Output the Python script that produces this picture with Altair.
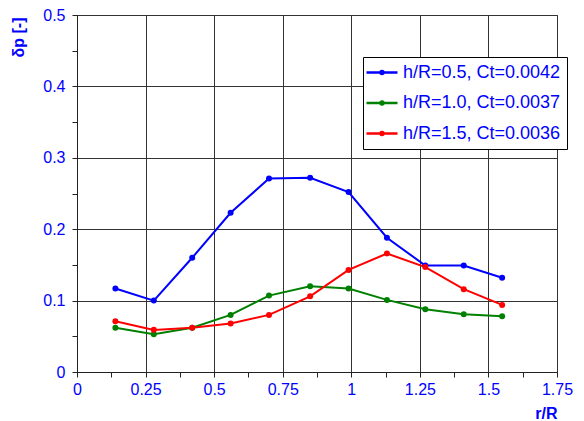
import altair as alt
import pandas as pd

r_over_R = [0.14, 0.28, 0.42, 0.56, 0.70, 0.85, 0.99, 1.13, 1.27, 1.41, 1.55]
dp_h05 = [0.117, 0.100, 0.160, 0.223, 0.271, 0.272, 0.252, 0.188, 0.149, 0.149, 0.132]
dp_h10 = [0.062, 0.053, 0.062, 0.080, 0.107, 0.120, 0.117, 0.101, 0.088, 0.081, 0.078]
dp_h15 = [0.071, 0.059, 0.062, 0.068, 0.080, 0.106, 0.143, 0.166, 0.147, 0.116, 0.094]
series_names = ["h/R=0.5, Ct=0.0042", "h/R=1.0, Ct=0.0037", "h/R=1.5, Ct=0.0036"]
series_colors = ["#0000FF", "#008000", "#FF0000"]

x_ticks = [i * 0.125 for i in range(15)]
y_ticks = [i * 0.05 for i in range(11)]

rows = []
for name, vals in zip(series_names, [dp_h05, dp_h10, dp_h15]):
    for x, y in zip(r_over_R, vals):
        rows.append({"x": x, "y": y, "series": name})
df = pd.DataFrame(rows)

FONT = "Liberation Sans"
BLUE = "#0000FF"

x_axis = alt.Axis(
    values=x_ticks,
    labelExpr="round(datum.value*8)%2==1 ? '' : format(datum.value,'~g')",
    gridOpacity={"condition": {"test": "round(datum.value*8)%2==1", "value": 0}, "value": 1},
    labelOverlap=False, labelFlush=False,
    title="r/R", titleAnchor="end", titleAlign="right", titleX=480, titleY=46,
    titleBaseline="alphabetic",
    tickSize=5, labelPadding=4,
)
y_axis = alt.Axis(
    values=y_ticks,
    labelExpr="round(datum.value*20)%2==1 ? '' : format(datum.value,'~g')",
    gridOpacity={"condition": {"test": "round(datum.value*20)%2==1", "value": 0}, "value": 1},
    labelOverlap=False, labelFlush=False,
    title="δp [-]", titleAngle=-90, titleAlign="right", titleBaseline="middle",
    titleX=-59, titleY=2,
    tickSize=5, labelPadding=7,
)

legend = alt.Legend(
    title=None, orient="none", legendX=286, legendY=42,
    symbolType="M-1.5,0L2.375,0M0.6275,0A0.19,0.19,0,1,1,0.2475,0A0.19,0.19,0,1,1,0.6275,0Z",
    symbolSize=256, symbolStrokeWidth=2.5,
    fillColor="white", strokeColor="black", padding=6, rowPadding=11.5,
    labelOffset=15, labelLimit=400,
    labelExpr="datum.label + '\u2002'",
)

chart = alt.Chart(df).mark_line(
    strokeWidth=2, point=alt.OverlayMarkDef(size=36, filled=True)
).encode(
    x=alt.X("x:Q", scale=alt.Scale(domain=[0, 1.75], nice=False), axis=x_axis),
    y=alt.Y("y:Q", scale=alt.Scale(domain=[0, 0.5], nice=False), axis=y_axis),
    color=alt.Color("series:N", scale=alt.Scale(domain=series_names, range=series_colors),
                    legend=legend, sort=series_names),
).properties(
    width=480, height=357,
    background="white",
    autosize=alt.AutoSizeParams(type="none"),
    padding={"left": 77, "top": 15, "right": 27, "bottom": 49},
).configure_view(
    stroke="#555555", strokeWidth=1
).configure_axis(
    labelFont=FONT, titleFont=FONT, labelFontSize=16, titleFontSize=16,
    labelColor=BLUE, titleColor=BLUE, titleFontWeight="bold",
    gridColor="#333333", gridWidth=1, domainColor="#222222", tickColor="#222222",
).configure_legend(
    labelFont=FONT, labelFontSize=18, labelColor=BLUE,
)

chart.save("out.html", embed_options={"renderer": "svg", "actions": False})
